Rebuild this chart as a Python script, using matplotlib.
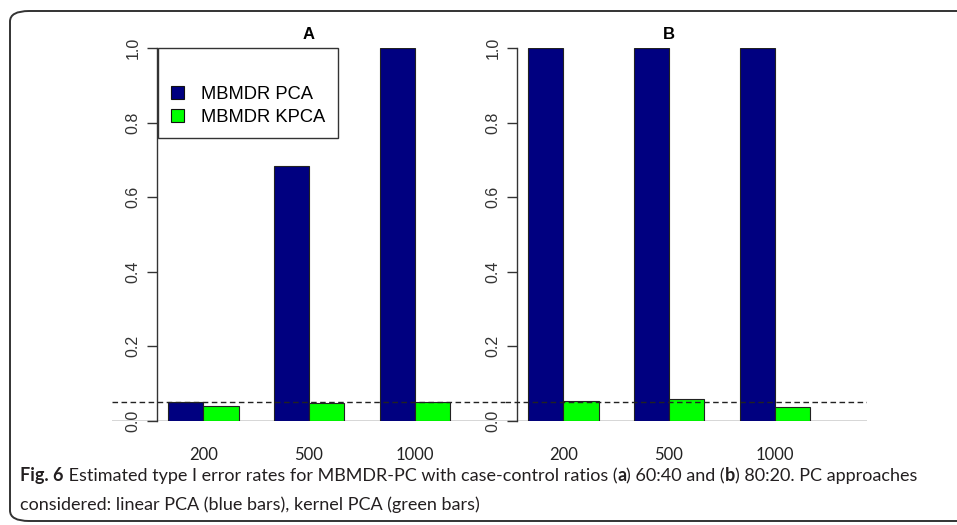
import matplotlib
matplotlib.use("Agg")
from matplotlib import pyplot as plt
from matplotlib.patches import Patch, FancyBboxPatch
from matplotlib.text import Annotation

# sample sizes and type I error rates
sizes = ['200', '500', '1000']
pca_a = [0.052, 0.684, 1.0]
kpca_a = [0.040, 0.047, 0.052]
pca_b = [1.0, 1.0, 1.0]
kpca_b = [0.054, 0.059, 0.038]
alpha = 0.05

navy = '#000080'
green = '#00ff00'
W, H = 957, 525
cap_font = ['Lato', 'DejaVu Sans']
axis_font = ['Liberation Sans', 'DejaVu Sans']


def fx(px):
    return px / W


def fy(py):
    return 1 - py / H


fig = plt.figure(figsize=(W / 100, H / 100), dpi=100)

# outer rounded frame
frame = FancyBboxPatch((fx(10), fy(521)), fx(980), fy(11) - fy(521),
                       boxstyle='round,pad=0,rounding_size=0.02',
                       transform=fig.transFigure, fill=False,
                       edgecolor='#333333', linewidth=1.4)
fig.add_artist(frame)

ax1 = fig.add_axes([fx(112), fy(421), fx(505 - 112), fy(48) - fy(421)])
ax2 = fig.add_axes([fx(505), fy(421), fx(867 - 505), fy(48) - fy(421)])


def panel(ax, pca, kpca, title, xlim):
    left = [1 + 3 * i for i in range(len(pca))]
    ax.bar(left, pca, width=1, align='edge', color=navy,
           edgecolor='#222222', linewidth=0.8, zorder=2)
    ax.bar([x + 1 for x in left], kpca, width=1, align='edge', color=green,
           edgecolor='#222222', linewidth=0.8, zorder=2)
    ax.axhline(0, color='#333333', linewidth=1.0, zorder=1)
    ax.axhline(alpha, color='#222222', linewidth=1.0, linestyle=(0, (4, 2.5)), zorder=3)
    ax.set_xlim(*xlim)
    ax.set_ylim(0, 1)
    ax.patch.set_visible(False)
    for s in ['top', 'right', 'bottom']:
        ax.spines[s].set_visible(False)
    ax.spines['left'].set_position(('data', 0.68))
    ax.spines['left'].set_color('#333333')
    ax.spines['left'].set_linewidth(1.0)
    ax.set_yticks([0, 0.2, 0.4, 0.6, 0.8, 1.0])
    ax.set_yticklabels(['0.0', '0.2', '0.4', '0.6', '0.8', '1.0'],
                       rotation=90, va='center', family=axis_font,
                       fontsize=11.5, color='#333333')
    ax.tick_params(axis='y', length=7.2, width=1.0, color='#333333', pad=4.5)
    ax.set_xticks([x + 1 for x in left])
    ax.set_xticklabels(sizes, family=cap_font, fontsize=12, color='#222222')
    ax.tick_params(axis='x', length=0, pad=19)
    ax.annotate(title, xy=(5, 1), xycoords=('data', 'axes fraction'),
                xytext=(0, 4), textcoords='offset points', ha='center',
                va='bottom', fontsize=12, fontweight='bold',
                family=axis_font, annotation_clip=False)


panel(ax1, pca_a, kpca_a, 'A', (-0.589, 10.56))
panel(ax2, pca_b, kpca_b, 'B', (0.3475, 10.617))

handles = [Patch(facecolor=navy, edgecolor='#111111', linewidth=0.8),
           Patch(facecolor=green, edgecolor='#111111', linewidth=0.8)]
leg = ax1.legend(handles, ['MBMDR PCA', 'MBMDR KPCA'], loc='upper left',
                 bbox_to_anchor=(fx(158), fy(137), fx(180), fy(48) - fy(137)),
                 bbox_transform=fig.transFigure, mode='expand',
                 borderaxespad=0, fancybox=False, framealpha=1,
                 edgecolor='#333333', title=' ', title_fontsize=14,
                 prop={'family': axis_font, 'size': 13.2},
                 handlelength=0.72, handleheight=0.72, handletextpad=0.92,
                 labelspacing=0.32, borderpad=0.7)
leg.get_frame().set_linewidth(1.0)

# caption, bold runs chained after each other
line1 = [('Fig. 6', 'bold'),
         (' Estimated type I error rates for MBMDR-PC with case-control ratios (', 'normal'),
         ('a', 'bold'), (') 60:40 and (', 'normal'), ('b', 'bold'),
         (') 80:20. PC approaches', 'normal')]
line2 = [('considered: linear PCA (blue bars), kernel PCA (green bars)', 'normal')]


def put_line(x, y, runs, size):
    t = fig.text(fx(x), fy(y), runs[0][0], fontsize=size, fontweight=runs[0][1],
                 family=cap_font, va='baseline', color='#231f20')
    texts = [t]
    for s, w in runs[1:]:
        t = Annotation(s, xy=(1, 0), xycoords=t, va='bottom', fontsize=size,
                       fontweight=w, family=cap_font, color='#231f20')
        fig.add_artist(t)
        texts.append(t)
    return texts


cap_size = 12
texts1 = put_line(20, 481, line1, cap_size)
texts2 = put_line(20, 510, line2, cap_size)

# fit the first caption line to the frame width
fig.canvas.draw()
r = fig.canvas.get_renderer()
right = texts1[-1].get_window_extent(r).x1
scale = (912 - 20) / (right - 20)
for t in texts1 + texts2:
    t.set_fontsize(cap_size * scale)

fig.savefig('out.png', dpi=100)
